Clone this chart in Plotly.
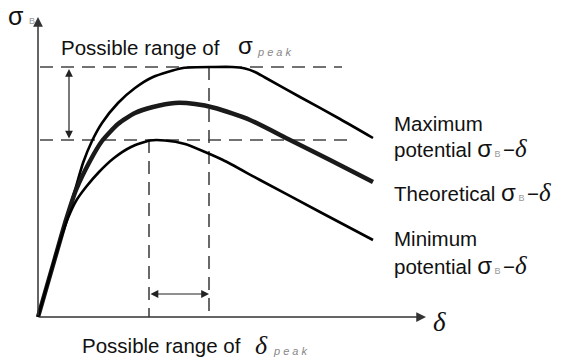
import plotly.graph_objects as go

# Schematic coordinates (plot units: 570 x 361 canvas, y downward)
max_x = [38, 55, 66, 75, 83, 92, 102, 118, 135, 153, 183, 215, 232, 245, 255, 265, 300, 340, 373]
max_y = [317, 258, 220, 190, 163, 141, 123, 103, 88, 77, 68, 67, 67, 68.5, 72, 77.5, 97, 119, 138]

theo_x = [38, 55, 66, 76, 90, 102, 118, 135, 153, 175, 195, 215, 250, 290, 330, 373]
theo_y = [317, 258, 220, 190, 161, 141, 124, 113, 107, 103, 104, 108, 120, 140, 160, 182]

min_x = [38, 52, 61, 68, 76, 86, 99, 114, 131, 150, 165, 185, 205, 223, 260, 320, 373]
min_y = [317, 268, 238, 218, 201, 187, 172, 158, 147, 140.5, 140.5, 144, 152, 160, 180, 212, 240]

peak_hi, peak_lo = 67, 140      # sigma_peak range
dpeak_lo, dpeak_hi = 149, 209   # delta_peak range
origin_x, origin_y = 38, 317

fig = go.Figure()

dash_style = dict(color="#444", width=1.6, dash="13px,8px")
fig.add_trace(go.Scatter(x=[40, 342], y=[peak_hi, peak_hi], mode="lines", line=dash_style))
fig.add_trace(go.Scatter(x=[40, 347], y=[peak_lo, peak_lo], mode="lines", line=dash_style))
fig.add_trace(go.Scatter(x=[dpeak_lo, dpeak_lo], y=[peak_lo, origin_y], mode="lines", line=dash_style))
fig.add_trace(go.Scatter(x=[dpeak_hi, dpeak_hi], y=[peak_hi, origin_y], mode="lines", line=dash_style))

fig.add_trace(go.Scatter(x=max_x, y=max_y, mode="lines",
                         line=dict(color="#000", width=2.6, shape="spline", smoothing=0.6)))
fig.add_trace(go.Scatter(x=theo_x, y=theo_y, mode="lines",
                         line=dict(color="#1a1a1a", width=4.5, shape="spline", smoothing=0.6)))
fig.add_trace(go.Scatter(x=min_x, y=min_y, mode="lines",
                         line=dict(color="#000", width=2.6, shape="spline", smoothing=0.6)))

anns = []
anns.append(dict(x=origin_x, y=17, ax=origin_x, ay=origin_y, axref="x", ayref="y",
                 xref="x", yref="y", text="", showarrow=True, arrowhead=2,
                 arrowsize=1.3, arrowwidth=1.5, arrowcolor="#333"))
anns.append(dict(x=426, y=origin_y, ax=origin_x, ay=origin_y, axref="x", ayref="y",
                 xref="x", yref="y", text="", showarrow=True, arrowhead=2,
                 arrowsize=1.3, arrowwidth=1.5, arrowcolor="#333"))
anns.append(dict(x=69, y=peak_hi + 2, ax=69, ay=peak_lo, axref="x", ayref="y",
                 xref="x", yref="y", text="", showarrow=True, arrowhead=2, arrowside="end+start",
                 arrowsize=1.3, arrowwidth=1.2, arrowcolor="#222"))
anns.append(dict(x=dpeak_hi, y=294, ax=dpeak_lo, ay=294, axref="x", ayref="y",
                 xref="x", yref="y", text="", showarrow=True, arrowhead=2, arrowside="end+start",
                 arrowsize=1.3, arrowwidth=1.2, arrowcolor="#222"))

F = "Arial, Liberation Sans, sans-serif"
sub_lbl = ("<span style='font-size:24px'>σ</span>"
           "<span style='font-size:9px;fill:#999'> B </span>−"
           "<span style='font-family:Liberation Serif;font-size:25px'><i>δ</i></span>")

def txt(x, y, s, size=20.5, color="#111", xa="left", family=F):
    anns.append(dict(x=x, y=y, xref="x", yref="y", text=s, showarrow=False,
                     xanchor=xa, yanchor="middle", font=dict(family=family, size=size, color=color)))

txt(6, 16, "σ", 25)
txt(27, 21, "B", 9, "#999")
txt(59, 47, "Possible range of", 20.5)
txt(236, 45, "σ", 24)
txt(255, 52, "<i>p e a k</i>", 11, "#888")
txt(80, 345, "Possible range of", 20.5)
txt(253, 345, "<i>δ</i>", 26, family="Liberation Serif")
txt(271, 351, "<i>p e a k</i>", 11, "#888")
txt(431, 322, "<i>δ</i>", 27, family="Liberation Serif")

txt(392, 123, "Maximum", 20.5)
txt(392, 148, "potential " + sub_lbl, 20.5)
txt(392, 192, "Theoretical " + sub_lbl, 20.5)
txt(392, 238, "Minimum", 20.5)
txt(392, 265, "potential " + sub_lbl, 20.5)

fig.update_layout(
    width=570, height=361, margin=dict(l=0, r=0, t=0, b=0),
    paper_bgcolor="white", plot_bgcolor="white", showlegend=False,
    xaxis=dict(range=[0, 570], visible=False, fixedrange=True),
    yaxis=dict(range=[361, 0], visible=False, fixedrange=True),
    annotations=anns,
)
fig.write_html("out.html", config={"displayModeBar": False})
